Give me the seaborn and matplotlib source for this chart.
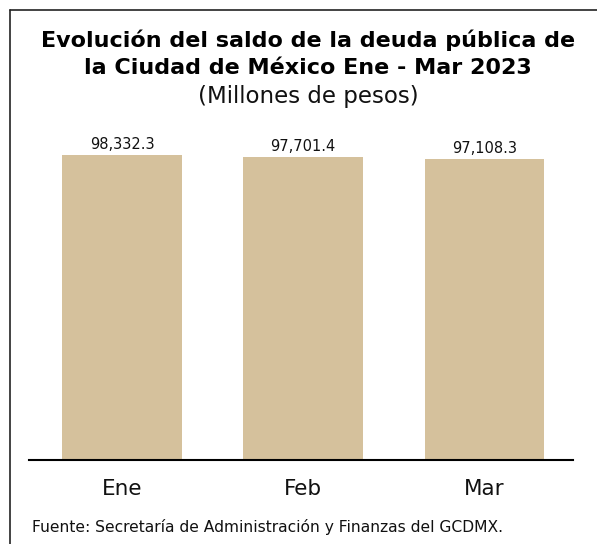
import pandas as pd
import seaborn as sns
from matplotlib import pyplot as plt
from matplotlib.lines import Line2D

# Data
meses = ['Ene', 'Feb', 'Mar']
saldo = [98332.3, 97701.4, 97108.3]

df = pd.DataFrame({'mes': meses, 'saldo': saldo})

sns.set_style('white')
plt.rcParams['font.family'] = ['DejaVu Sans']
plt.rcParams['text.color'] = 'black'

fig = plt.figure(figsize=(5.97, 5.44), dpi=100)
ax = fig.add_axes([29 / 597, 84 / 544, 544 / 597, 330 / 544])

sns.barplot(x='mes', y='saldo', data=df, color='#D5C19C', width=0.66,
            saturation=1, linewidth=0, ax=ax)

ax.set_xlim(-0.514, 2.49)
ax.set_ylim(0, 98332.3 * 330 / 305)

for i, v in enumerate(saldo):
    ax.text(i, v + 900, f'{v:,.1f}', ha='center', va='bottom', fontsize=10.5, color='#111111')

ax.set_xlabel('')
ax.set_ylabel('')
ax.set_yticks([])
ax.tick_params(axis='x', length=0, labelsize=15.5, pad=14, colors='#111111')
for s in ['top', 'right', 'left']:
    ax.spines[s].set_visible(False)
ax.spines['bottom'].set_color('black')
ax.spines['bottom'].set_linewidth(1.5)

# Titles
fig.text(0.516, 1 - 40 / 544, 'Evolución del saldo de la deuda pública de',
         ha='center', va='center', fontsize=16, fontweight='bold')
fig.text(0.516, 1 - 68 / 544, 'la Ciudad de México Ene - Mar 2023',
         ha='center', va='center', fontsize=16, fontweight='bold')
fig.text(0.516, 1 - 96 / 544, '(Millones de pesos)',
         ha='center', va='center', fontsize=16.5, color='#111111')

fig.text(32 / 597, 1 - 527 / 544, 'Fuente: Secretaría de Administración y Finanzas del GCDMX.',
         ha='left', va='center', fontsize=11.2, color='#111111')

# Frame
fig.add_artist(Line2D([10 / 597, 10 / 597], [0, 1 - 10 / 544], transform=fig.transFigure,
                      color='#222222', lw=1.2))
fig.add_artist(Line2D([10 / 597, 1], [1 - 10 / 544, 1 - 10 / 544], transform=fig.transFigure,
                      color='#222222', lw=1.2))

fig.savefig('out.png', dpi=100)
